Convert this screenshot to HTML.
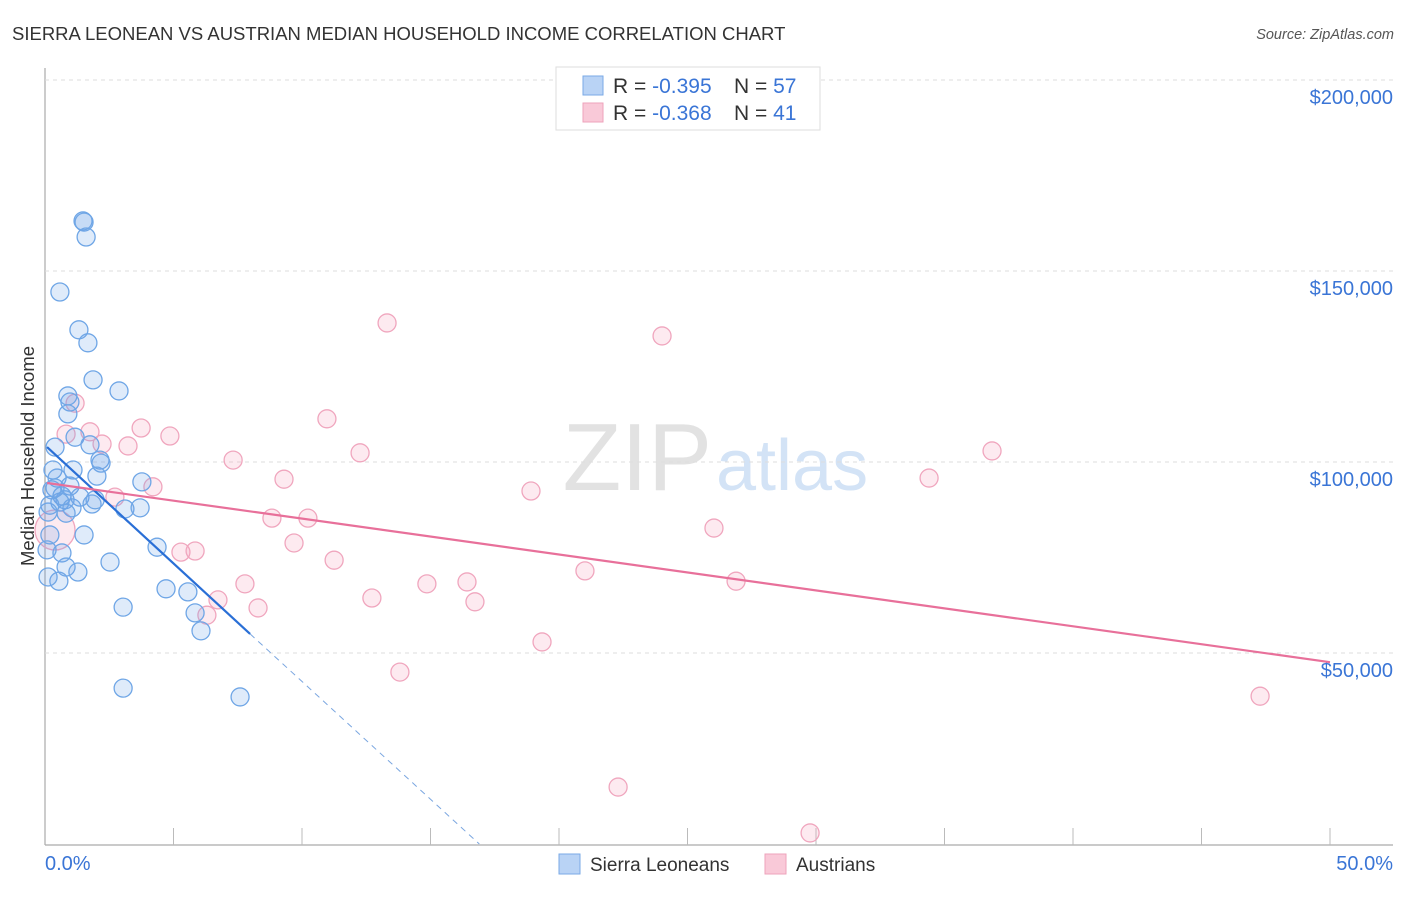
<!DOCTYPE html>
<html><head><meta charset="utf-8"><style>
body{margin:0;background:#fff;font-family:"Liberation Sans",sans-serif}
svg text{font-family:"Liberation Sans",sans-serif}
</style></head><body>
<svg id="c" width="1406" height="892">
<text x="12" y="40" font-size="18.5" fill="#333">SIERRA LEONEAN VS AUSTRIAN MEDIAN HOUSEHOLD INCOME CORRELATION CHART</text>
<text x="1394" y="39" font-size="14.5" fill="#555" font-style="italic" text-anchor="end">Source: ZipAtlas.com</text>
<text x="712" y="490" font-size="96" fill="#e2e2e2" text-anchor="end" font-family="Liberation Serif">ZIP</text>
<text x="716" y="490" font-size="72" fill="#d3e3f6">atlas</text>
<text transform="translate(34,456) rotate(-90)" font-size="18.5" fill="#333" text-anchor="middle">Median Household Income</text>
<g id="grid"></g><g id="pts"></g><g id="trend"></g>
<g>
<rect x="556" y="67" width="264" height="63" fill="#fff" stroke="#ddd"/>
<rect x="583" y="76" width="20" height="19" fill="#b9d3f5" stroke="#7aaae6"/>
<rect x="583" y="103" width="20" height="19" fill="#f9c9d8" stroke="#eea3bb"/>
<text x="613" y="93" font-size="21" fill="#333">R = <tspan fill="#3a75d6">-0.395</tspan></text>
<text x="734" y="93" font-size="21" fill="#333">N = <tspan fill="#3a75d6">57</tspan></text>
<text x="613" y="120" font-size="21" fill="#333">R = <tspan fill="#3a75d6">-0.368</tspan></text>
<text x="734" y="120" font-size="21" fill="#333">N = <tspan fill="#3a75d6"> 41</tspan></text>
</g>
<g>
<rect x="559" y="854" width="21" height="20" fill="#b9d3f5" stroke="#7aaae6"/>
<text x="590" y="871" font-size="19" fill="#333">Sierra Leoneans</text>
<rect x="765" y="854" width="21" height="20" fill="#f9c9d8" stroke="#eea3bb"/>
<text x="796" y="871" font-size="19" fill="#333">Austrians</text>
</g>
<text x="45" y="870" font-size="20" fill="#3a75d6">0.0%</text>
<text x="1393" y="870" font-size="20" fill="#3a75d6" text-anchor="end">50.0%</text>
</svg>
<script>
const yTicks=[50,100,150,200];
const yTickLabels=["$50,000","$100,000","$150,000","$200,000"];
const blueX=[1.48,1.52,1.60,0.58,1.32,1.67,1.87,2.88,0.89,0.97,0.89,1.17,1.75,0.39,2.14,2.18,2.02,0.31,0.47,1.09,3.77,0.39,0.97,0.66,0.78,1.36,1.83,0.58,0.19,1.05,0.82,3.11,3.70,0.12,1.52,0.19,0.66,0.08,2.53,4.36,0.82,1.28,0.54,4.71,5.56,3.04,5.84,6.07,3.04,7.59,0.12,0.27,1.95];
const blueY=[163.1,162.8,158.9,144.5,134.6,131.2,121.5,118.6,117.3,115.7,112.6,106.5,104.5,103.9,100.5,99.7,96.3,97.9,95.8,97.9,94.8,93.2,93.7,91.1,90.1,90.8,89.0,89.5,88.7,88.0,86.6,87.7,88.0,86.9,80.9,80.9,76.2,77.0,73.8,77.7,72.5,71.2,68.8,66.8,66.0,62.0,60.5,55.8,40.8,38.5,69.9,92.7,90.1];
const pinkX=[13.31,24.01,1.17,10.97,3.74,4.86,0.82,1.75,2.22,3.23,12.26,36.85,7.32,4.20,9.30,18.91,34.40,2.72,8.83,10.23,26.03,9.69,5.29,5.84,11.25,7.78,16.42,14.86,21.01,26.89,12.72,8.29,6.73,16.73,6.30,19.34,13.81,47.28,22.30,29.77];
const pinkY=[136.4,133.0,115.4,111.3,108.9,106.8,107.3,107.9,104.7,104.2,102.4,102.9,100.5,93.5,95.5,92.4,95.8,90.8,85.3,85.3,82.7,78.8,76.4,76.7,74.3,68.1,68.6,68.1,71.5,68.8,64.4,61.8,63.9,63.4,59.9,52.9,45.0,38.7,14.9,2.9];
const bigPink=[0.39,82.2];
const blueTrend=[0.08,103.9,7.98,55.0,16.9,0];
const pinkTrend=[0.08,94.5,50,47.6];
const NS="http://www.w3.org/2000/svg";
const sx=v=>45+v*25.7, sy=v=>844-v*3.82;
function mk(tag,attrs,parent){const e=document.createElementNS(NS,tag);for(const k in attrs)e.setAttribute(k,attrs[k]);document.getElementById(parent).appendChild(e);return e;}
let ax=mk('line',{x1:45,y1:68,x2:45,y2:845,stroke:'#aaa','stroke-width':1.2},'grid');


let bx=mk('line',{x1:45,y1:845,x2:1393,y2:845,stroke:'#aaa','stroke-width':1.2},'grid');


for(let i=1;i<=10;i++){const t=mk('line',{x1:sx(i*5),y1:828,x2:sx(i*5),y2:845,stroke:'#bbb'},'grid');

}
yTicks.forEach((v,i)=>{const g=mk('line',{x1:45,y1:sy(v),x2:1393,y2:sy(v),stroke:'#ddd','stroke-dasharray':'4,4'},'grid');


const t=mk('text',{x:1393,y:sy(v)+24,'font-size':20,fill:'#3a75d6','text-anchor':'end'},'grid');t.textContent=yTickLabels[i];

});
pinkX.forEach((x,i)=>{const c=mk('circle',{cx:sx(x),cy:sy(pinkY[i]),r:9,fill:'rgba(244,160,188,0.22)',stroke:'#f0a6be','stroke-width':1.3},'pts');

});
const bp=mk('circle',{cx:sx(bigPink[0]),cy:sy(bigPink[1]),r:20,fill:'rgba(244,160,188,0.22)',stroke:'#f0a6be','stroke-width':1.3},'pts');


blueX.forEach((x,i)=>{const c=mk('circle',{cx:sx(x),cy:sy(blueY[i]),r:9,fill:'rgba(110,165,230,0.22)',stroke:'#6fa6e6','stroke-width':1.3},'pts');

});
const l1=mk('line',{x1:sx(blueTrend[0]),y1:sy(blueTrend[1]),x2:sx(blueTrend[2]),y2:sy(blueTrend[3]),stroke:'#2a6fd6','stroke-width':2.2},'trend');


const l2=mk('line',{x1:sx(blueTrend[2]),y1:sy(blueTrend[3]),x2:sx(blueTrend[4]),y2:sy(blueTrend[5]),stroke:'#7aa6e0','stroke-width':1,'stroke-dasharray':'6,5'},'trend');


const l3=mk('line',{x1:sx(pinkTrend[0]),y1:sy(pinkTrend[1]),x2:sx(pinkTrend[2]),y2:sy(pinkTrend[3]),stroke:'#e8709a','stroke-width':2.2},'trend');


</script>
</body></html>
